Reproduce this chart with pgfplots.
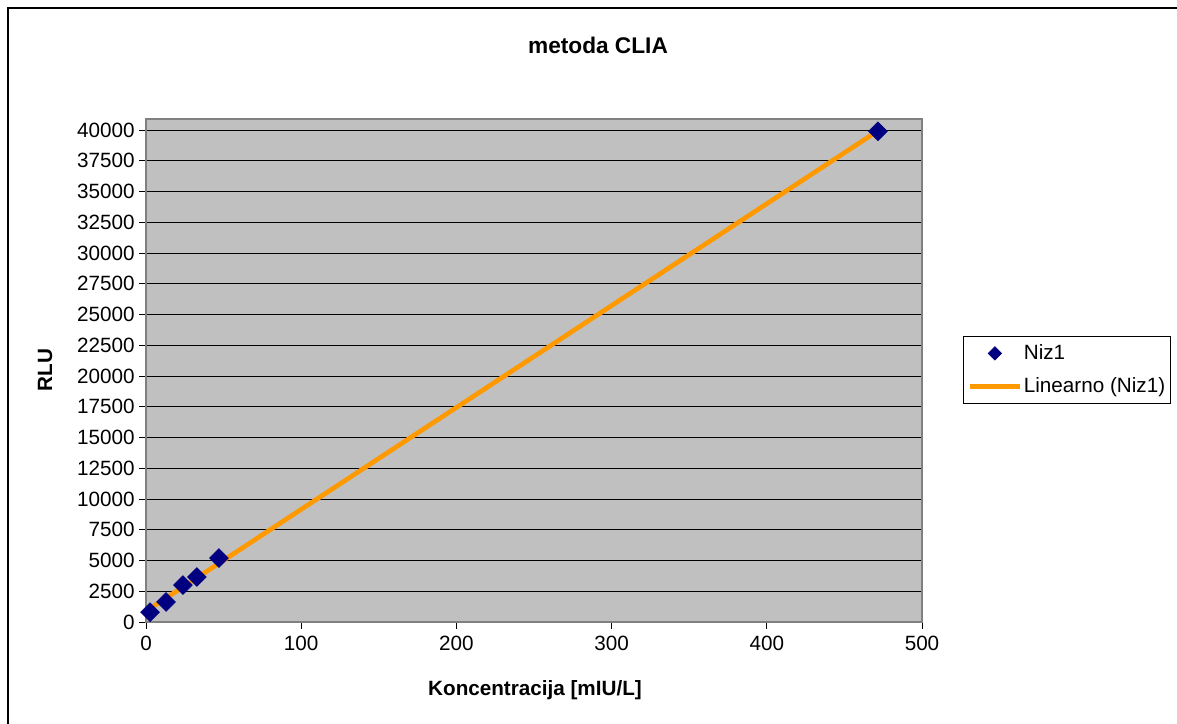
\documentclass[border=0pt]{standalone}
\usepackage{pgfplots}
\usepackage{pgfplotstable}
\pgfplotsset{compat=1.18}
\usepackage{fontspec}
\setmainfont{Liberation Sans}
\definecolor{navymark}{HTML}{000080}
\definecolor{trendorange}{HTML}{FF9900}
\definecolor{plotgray}{HTML}{C0C0C0}
\definecolor{bordergray}{HTML}{808080}
\pgfplotstableread{
X Y
2.6 800
12.9 1630
23.8 3000
32.8 3660
47.0 5200
471.6 39900
}\datatable
\begin{document}
\begin{tikzpicture}[x=0.75pt,y=0.75pt]
\path[use as bounding box] (0,0) rectangle (1177,724);
\draw[black, line width=1.5pt] (8,0) -- (8,716) -- (1177,716);
\begin{axis}[
  at={(109.5pt,76.5pt)}, anchor=south west,
  scale only axis, width=582pt, height=377.25pt,
  xmin=0, xmax=500, ymin=0, ymax=40900,
  xtick={0,100,...,500},
  ytick={0,2500,...,40000},
  scaled ticks=false,
  /pgf/number format/1000 sep={},
  /pgf/number format/assume math mode=true,
  ticklabel style={font=\fontsize{15.5}{17}\selectfont},
  xticklabel style={yshift=-2pt},
  yticklabel style={xshift=0pt},
  axis background/.style={fill=plotgray},
  axis line style={draw=bordergray, line width=1.5pt},
  ymajorgrids, major grid style={black, line width=0.6pt},
  tick style={black, line width=0.6pt},
  tick align=outside, major tick length=5pt,
  xtick pos=bottom, ytick pos=left,
  legend style={at={(1.0528,0.5686)}, anchor=north west, draw=black, fill=white,
    font=\fontsize{15.5}{18}\selectfont, row sep=10pt, inner xsep=3pt, inner ysep=5.5pt,
    nodes={inner sep=1pt}},
  legend cell align=left,
  clip=false,
]
\addplot[only marks, mark=square*, mark size=5pt, mark options={rotate=45, fill=navymark, draw=navymark},
  legend image code/.code={\draw[mark=square*, mark size=3.6pt, mark options={rotate=45, fill=navymark, draw=navymark}] plot coordinates {(19pt,0pt)};}]
  table[x=X,y=Y] {\datatable};
\addlegendentry{Niz1}
\addplot[no marks, trendorange, line width=3.5pt,
  legend image code/.code={\draw[trendorange, line width=3.5pt] (0pt,0pt) -- (38pt,0pt);}]
  table[x=X, y={create col/linear regression={y=Y}}] {\datatable};
\addlegendentry{Linearno (Niz1)}
\end{axis}
\node[font=\bfseries\fontsize{17}{20}\selectfont] at (598,679) {metoda CLIA};
\node[font=\bfseries\fontsize{15.5}{18}\selectfont] at (535,34) {Koncentracija [mIU/L]};
\node[font=\bfseries\fontsize{15.5}{18}\selectfont, rotate=90] at (45,354) {RLU};
\end{tikzpicture}
\end{document}
